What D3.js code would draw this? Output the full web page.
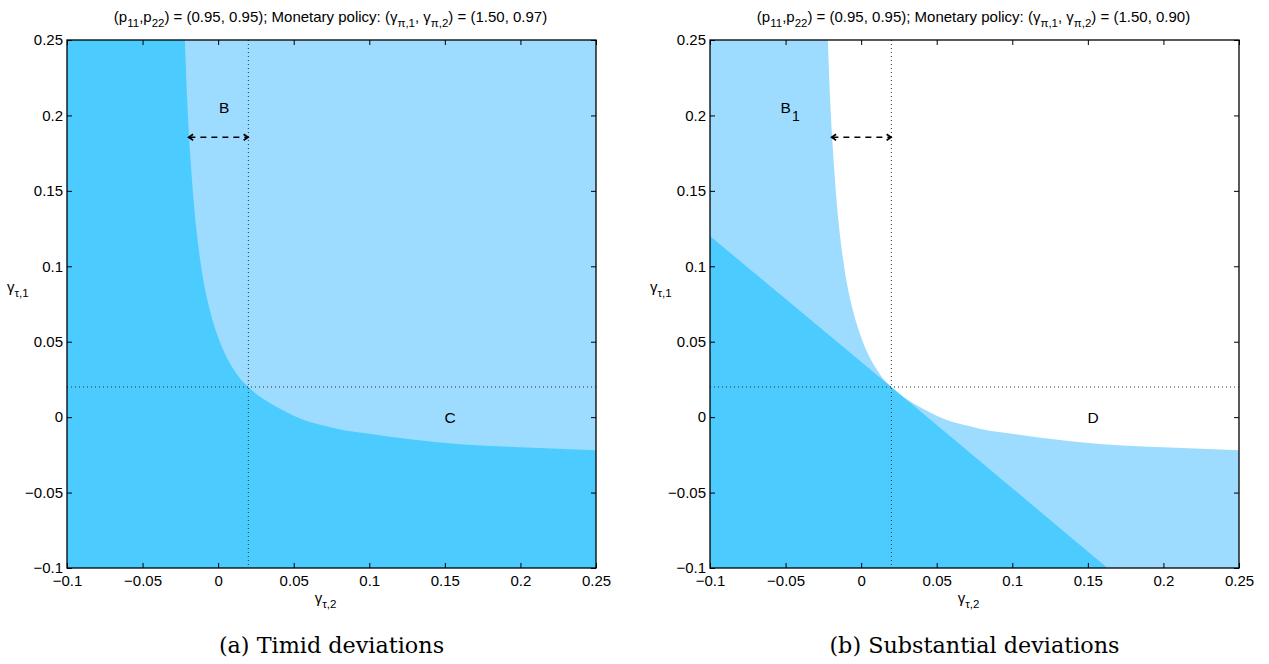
<!DOCTYPE html>
<html><head><meta charset="utf-8">
<script src="https://cdn.jsdelivr.net/npm/d3@7"></script>
<style>
body{margin:0;background:#fff;}
svg{display:block;font-family:"Liberation Sans",Arial,sans-serif;}
</style></head>
<body><svg id="c" width="1269" height="664"></svg>
<script>
// ---- data ----
const xTicks = [-0.1,-0.05,0,0.05,0.1,0.15,0.2,0.25];
const yTicks = [-0.1,-0.05,0,0.05,0.1,0.15,0.2,0.25];
const xTickLabels = ["\u22120.1","\u22120.05","0","0.05","0.1","0.15","0.2","0.25"];
const yTickLabels = ["\u22120.1","\u22120.05","0","0.05","0.1","0.15","0.2","0.25"];
// boundary curve
const curveX = [-0.022,-0.021,-0.02,-0.018,-0.015,-0.012,-0.01,-0.005,0,0.005,0.01,0.015,0.02,0.025,0.03,0.04,0.05,0.06,0.07,0.08,0.10,0.13,0.16,0.20,0.25];
const curveY = [0.250,0.222,0.200,0.167,0.130,0.105,0.092,0.069,0.053,0.041,0.032,0.025,0.020,0.0155,0.012,0.006,0.001,-0.003,-0.0055,-0.008,-0.011,-0.015,-0.018,-0.020,-0.022];
// straight boundary in panel b
const lineX = [-0.1,0.02,0.163];
const lineY = [0.12,0.02,-0.1];
const refX = 0.02, refY = 0.02;
const arrowY = 0.1855, arrowX0 = -0.0197, arrowX1 = 0.02;
const policyValues = ["(1.50, 0.97)","(1.50, 0.90)"];
const captions = ["(a) Timid deviations","(b) Substantial deviations"];
const labelsA = [{t:"B",s:"",x:0.004,y:0.205},{t:"C",s:"",x:0.1535,y:0.0}];
const labelsB = [{t:"B",s:"1",x:-0.047,y:0.205},{t:"D",s:"",x:0.1535,y:0.0}];

const DARK = "#4ccbff", LIGHT = "#9edcff";
const W = 529, H = 528;
const svg = d3.select("#c");
const x = d3.scaleLinear().domain([-0.1,0.25]).range([0,W]);
const y = d3.scaleLinear().domain([-0.1,0.25]).range([H,0]);
const curve = curveX.map((v,i)=>[v,curveY[i]]);
const smooth = d3.line().x(d=>x(d[0])).y(d=>y(d[1])).curve(d3.curveMonotoneX);
const pts = arr => arr.map(d=>"L"+x(d[0])+","+y(d[1])).join("");

const defs = svg.append("defs");
defs.append("marker").attr("id","ah").attr("viewBox","-6 -5 12 10")
  .attr("markerWidth",9).attr("markerHeight",9).attr("orient","auto-start-reverse")
  .attr("markerUnits","userSpaceOnUse")
  .append("path").attr("d","M-5,-4 L1,0 L-5,4").attr("fill","none")
  .attr("stroke","#000").attr("stroke-width",2.2);

function panel(idx, ox, oy){
  const g = svg.append("g").attr("transform",`translate(${ox},${oy})`);
  const clipId = "clip"+idx;
  defs.append("clipPath").attr("id",clipId).append("rect").attr("width",W).attr("height",H);
  const pg = g.append("g").attr("clip-path",`url(#${clipId})`);
  if(idx===0){
    pg.append("rect").attr("width",W).attr("height",H).attr("fill",DARK);
    pg.append("path").attr("d",smooth(curve)+pts([[0.25,0.25]])+"Z").attr("fill",LIGHT);
  } else {
    pg.append("rect").attr("width",W).attr("height",H).attr("fill","#fff");
    const d = "M"+x(-0.1)+","+y(0.25)+smooth(curve).replace(/^M/,"L")+pts([[0.25,-0.1],[-0.1,-0.1]])+"Z";
    pg.append("path").attr("d",d).attr("fill",LIGHT);
    const lp = lineX.map((v,i)=>[v,lineY[i]]).concat([[-0.1,-0.1]]);
    pg.append("path").attr("d","M"+x(lp[0][0])+","+y(lp[0][1])+pts(lp.slice(1))+"Z").attr("fill",DARK);
  }
  // dotted reference lines
  pg.append("line").attr("x1",x(refX)).attr("x2",x(refX)).attr("y1",0).attr("y2",H)
    .attr("stroke","#333").attr("stroke-width",1).attr("stroke-dasharray","1,3");
  pg.append("line").attr("x1",0).attr("x2",W).attr("y1",y(refY)).attr("y2",y(refY))
    .attr("stroke","#333").attr("stroke-width",1).attr("stroke-dasharray","1,3");
  // arrow
  g.append("line").attr("x1",x(arrowX0)+1).attr("x2",x(arrowX1)-1).attr("y1",y(arrowY)).attr("y2",y(arrowY))
    .attr("stroke","#000").attr("stroke-width",1.5).attr("stroke-dasharray","6,5")
    .attr("marker-start","url(#ah)").attr("marker-end","url(#ah)");
  // region labels
  (idx===0?labelsA:labelsB).forEach(l=>{
    const t = g.append("text").attr("x",x(l.x)).attr("y",y(l.y)).attr("dy","0.35em")
      .attr("text-anchor","middle").attr("font-size",15.5).attr("fill","#000");
    t.append("tspan").text(l.t);
    if(l.s) t.append("tspan").attr("dx",1).attr("dy",8).attr("font-size",14).text(l.s);
  });
  // axes
  const fs = 15;
  const ax = g.append("g").attr("transform",`translate(0,${H})`)
    .call(d3.axisBottom(x).tickValues(xTicks).tickSize(-5).tickPadding(7).tickFormat((d,i)=>xTickLabels[i]));
  const axT = g.append("g")
    .call(d3.axisTop(x).tickValues(xTicks).tickSize(-5).tickFormat(""));
  const ay = g.append("g")
    .call(d3.axisLeft(y).tickValues(yTicks).tickSize(-5).tickPadding(4).tickFormat((d,i)=>yTickLabels[i]));
  const ayR = g.append("g").attr("transform",`translate(${W},0)`)
    .call(d3.axisRight(y).tickValues(yTicks).tickSize(-5).tickFormat(""));
  [ax,axT,ay,ayR].forEach(a=>{
    a.attr("font-family",null);
    a.selectAll(".domain").remove();
    a.selectAll("line").attr("stroke","#000");
    a.selectAll("text").attr("font-size",fs).attr("fill","#000");
  });
  g.append("rect").attr("width",W).attr("height",H).attr("fill","none").attr("stroke","#000").attr("stroke-width",1.3);
  // axis labels
  const xl = g.append("text").attr("x",W/2-6).attr("y",H+35).attr("text-anchor","middle").attr("font-size",15);
  xl.append("tspan").text("\u03b3");
  xl.append("tspan").attr("font-size",11.5).attr("dy",5).text("\u03c4,2");
  const yl = g.append("text").attr("x",-60).attr("y",y(0.1)+26).attr("text-anchor","start").attr("font-size",15);
  yl.append("tspan").text("\u03b3");
  yl.append("tspan").attr("font-size",11.5).attr("dy",5).text("\u03c4,1");
  // title
  const tt = g.append("text").attr("x",W/2-1).attr("y",-18).attr("text-anchor","middle").attr("font-size",15);
  const parts = [["(p",""],["","11"],[",p",""],["","22"],[") = (0.95, 0.95); Monetary policy: (\u03b3",""],["","\u03c0,1"],[", \u03b3",""],["","\u03c0,2"],[") = "+policyValues[idx],""]];
  let down=false;
  parts.forEach(p=>{
    if(p[0]){ tt.append("tspan").attr("dy",down?-5:0).text(p[0]); down=false; }
    if(p[1]){ tt.append("tspan").attr("font-size",11.5).attr("dy",down?0:5).text(p[1]); down=true; }
  });
  // caption
  svg.append("text").attr("x",ox+W/2).attr("y",653).attr("text-anchor","middle")
    .attr("font-family","'DejaVu Serif','Liberation Serif',serif").attr("font-size",22.3).attr("fill","#000")
    .text(captions[idx]);
}
panel(0,67,40);
panel(1,710,40);
</script></body></html>
